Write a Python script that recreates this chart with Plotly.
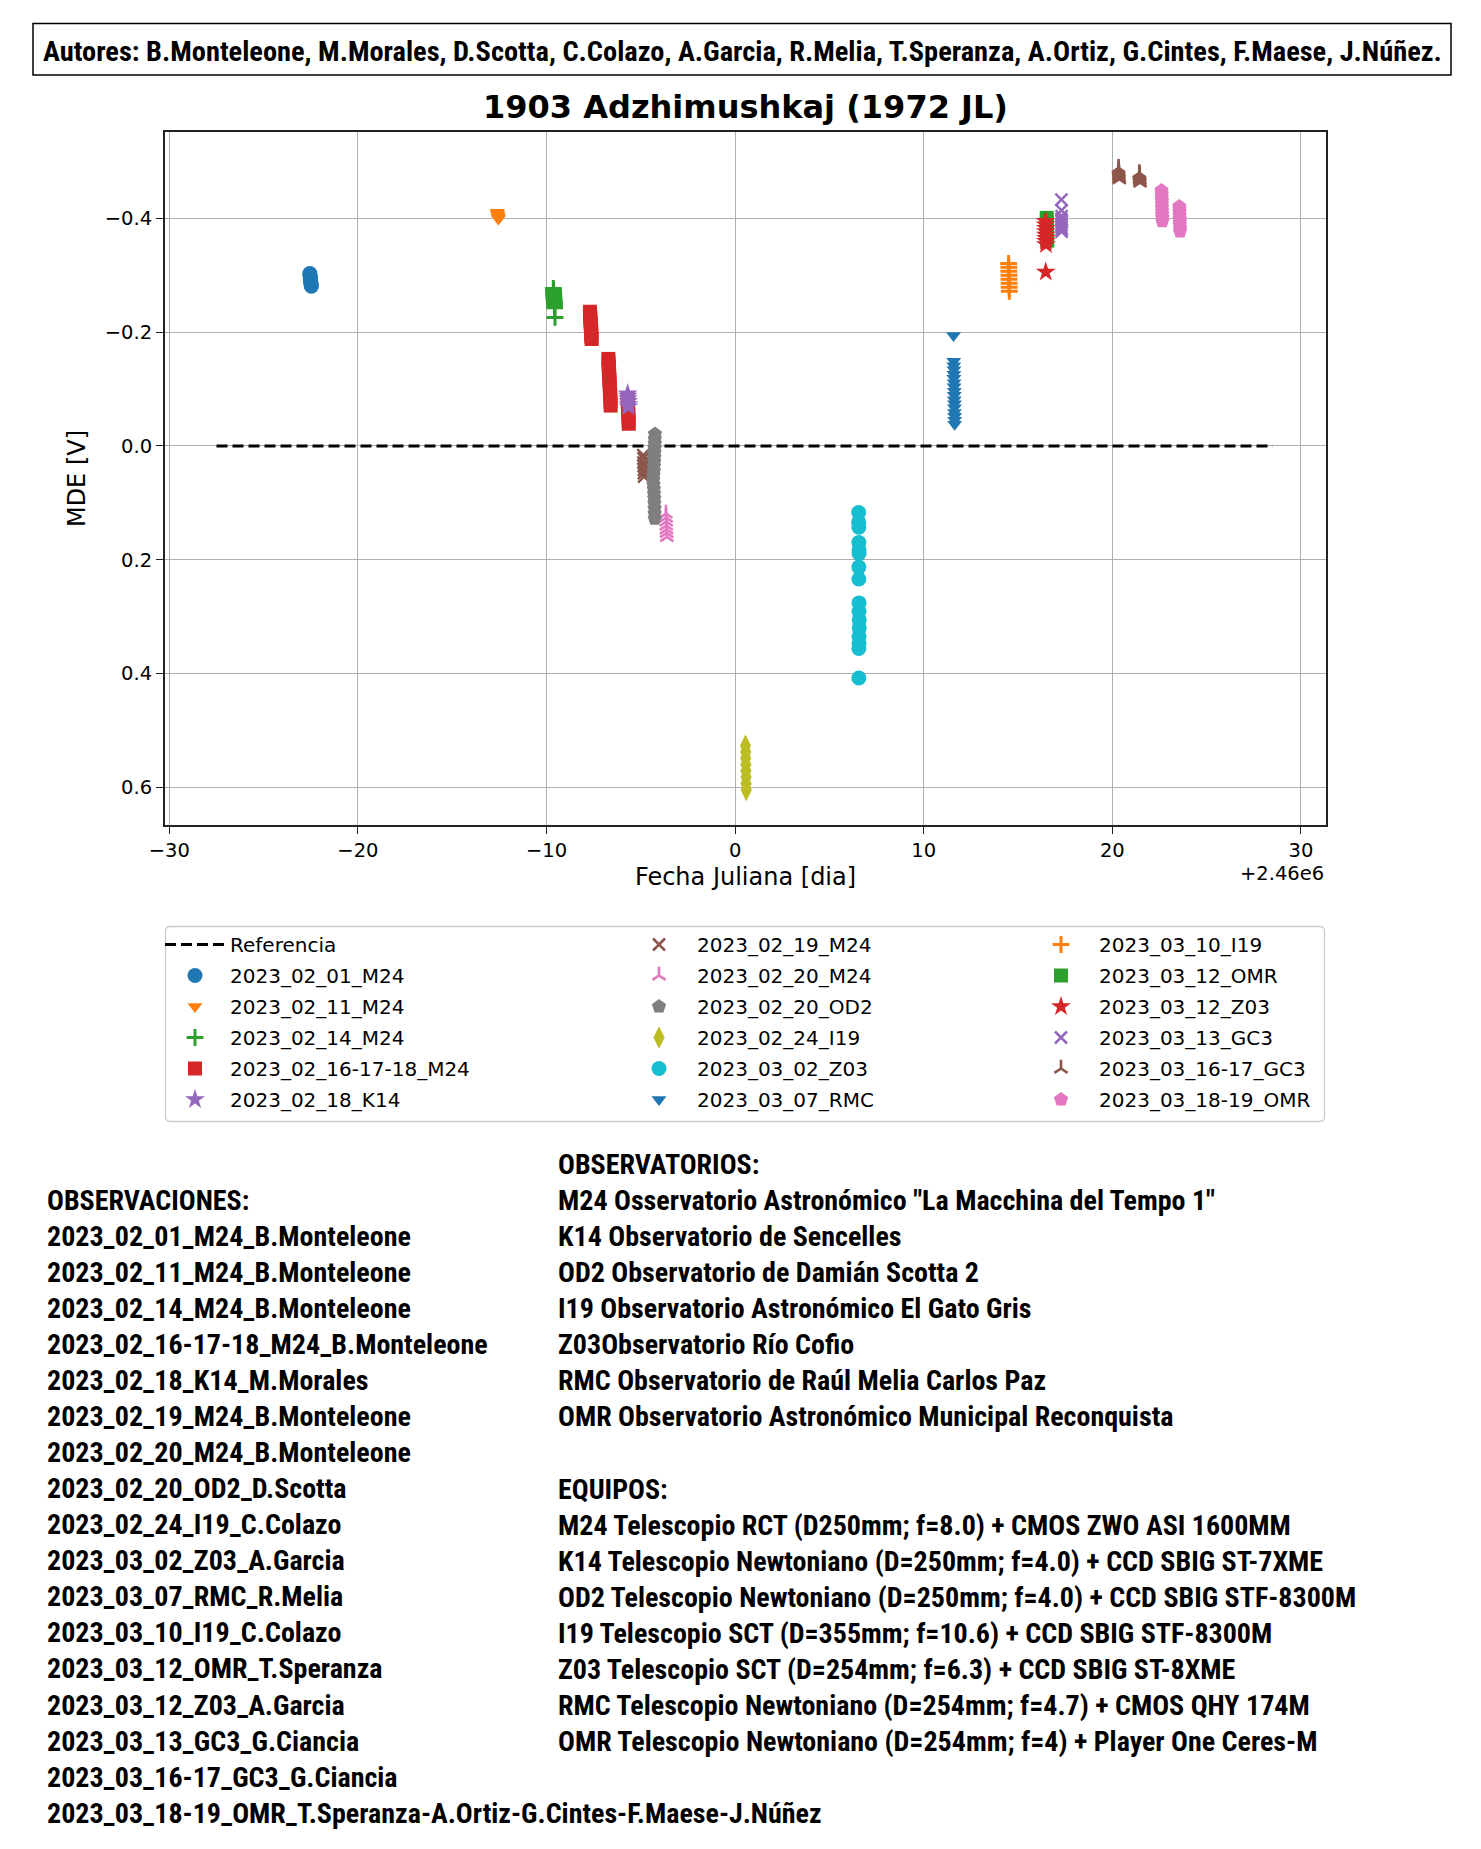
import subprocess
import plotly.graph_objects as go

# ------------------------------------------------------------------ data
ref_x = [-27.5, 28.5]
ref_y = [0.0, 0.0]

x_0201 = [-22.55, -22.54, -22.53, -22.52, -22.52, -22.51, -22.50, -22.49, -22.48, -22.47]
y_0201 = [-0.303, -0.300, -0.297, -0.296, -0.293, -0.291, -0.288, -0.286, -0.283, -0.281]

x_0211 = [-12.62, -12.61, -12.60, -12.59, -12.58, -12.57, -12.56, -12.55]
y_0211 = [-0.411, -0.410, -0.408, -0.407, -0.405, -0.403, -0.401, -0.399]

x_0214 = [-9.64, -9.63, -9.62, -9.62, -9.61, -9.60, -9.59, -9.58, -9.58, -9.57, -9.55]
y_0214 = [-0.277, -0.273, -0.270, -0.266, -0.262, -0.258, -0.255, -0.251, -0.247, -0.243, -0.226]

x_021618 = [-7.70, -7.69, -7.68, -7.67, -7.66, -7.65, -7.64, -7.63, -7.63, -7.62, -7.61,
            -6.72, -6.71, -6.70, -6.69, -6.68, -6.67, -6.66, -6.65, -6.64, -6.63, -6.62, -6.61, -6.60,
            -5.70, -5.69, -5.68, -5.67, -5.66, -5.65, -5.64]
y_021618 = [-0.236, -0.231, -0.226, -0.221, -0.216, -0.211, -0.206, -0.201, -0.196, -0.192, -0.188,
            -0.153, -0.146, -0.140, -0.133, -0.127, -0.120, -0.114, -0.107, -0.100, -0.093, -0.086, -0.078, -0.071,
            -0.083, -0.076, -0.068, -0.061, -0.054, -0.046, -0.039]

x_0218 = [-5.70, -5.69, -5.68, -5.67, -5.66, -5.66]
y_0218 = [-0.092, -0.088, -0.083, -0.078, -0.073, -0.069]

x_0219 = [-4.87, -4.86, -4.86, -4.85, -4.84, -4.84, -4.83]
y_0219 = [0.016, 0.022, 0.029, 0.035, 0.042, 0.048, 0.054]

x_0220m = [-3.67, -3.66, -3.65, -3.65, -3.64, -3.63, -3.62]
y_0220m = [0.119, 0.126, 0.133, 0.140, 0.147, 0.153, 0.160]

x_0220o = [-4.25, -4.26, -4.26, -4.27, -4.28, -4.28, -4.29, -4.30, -4.31, -4.33,
           -4.34, -4.33, -4.31, -4.30, -4.29, -4.28, -4.27, -4.27, -4.26]
y_0220o = [-0.021, -0.012, -0.004, 0.004, 0.012, 0.020, 0.028, 0.036, 0.044, 0.052,
           0.060, 0.068, 0.076, 0.084, 0.092, 0.101, 0.110, 0.119, 0.128]

x_0224 = [0.55, 0.56, 0.56, 0.57, 0.57, 0.58, 0.58, 0.59]
y_0224 = [0.527, 0.538, 0.549, 0.560, 0.571, 0.582, 0.594, 0.605]

x_0302 = [6.55, 6.55, 6.56, 6.56, 6.57, 6.57, 6.56, 6.56, 6.57, 6.57, 6.58, 6.58, 6.57, 6.57, 6.56, 6.56]
y_0302 = [0.117, 0.134, 0.143, 0.170, 0.183, 0.189, 0.213, 0.234, 0.276, 0.291, 0.306, 0.320, 0.335, 0.347, 0.356, 0.408]

x_0307 = [11.58, 11.59, 11.59, 11.60, 11.60, 11.60, 11.61, 11.61, 11.62, 11.62, 11.62, 11.63, 11.63, 11.63, 11.64, 11.64, 11.64]
y_0307 = [-0.194, -0.149, -0.141, -0.134, -0.126, -0.119, -0.111, -0.104, -0.096, -0.089, -0.081, -0.074, -0.067, -0.059, -0.052, -0.045, -0.038]

x_0310 = [14.50, 14.51, 14.51, 14.52, 14.52, 14.53, 14.53, 14.54]
y_0310 = [-0.321, -0.314, -0.307, -0.300, -0.293, -0.286, -0.279, -0.272]

x_0312o = [16.52, 16.53, 16.53, 16.54, 16.54, 16.55]
y_0312o = [-0.401, -0.393, -0.385, -0.377, -0.369, -0.361]

x_0312z = [16.46, 16.46, 16.47, 16.47, 16.47, 16.48, 16.48, 16.48, 16.47]
y_0312z = [-0.395, -0.389, -0.383, -0.377, -0.371, -0.365, -0.360, -0.354, -0.306]

x_0313 = [17.30, 17.31, 17.31, 17.30, 17.32, 17.31, 17.30, 17.32, 17.31]
y_0313 = [-0.433, -0.414, -0.404, -0.399, -0.394, -0.389, -0.385, -0.381, -0.377]

x_031617 = [20.33, 20.34, 20.35, 20.35, 20.36, 20.37, 21.43, 21.44, 21.45, 21.45, 21.46, 21.47]
y_031617 = [-0.489, -0.485, -0.481, -0.477, -0.473, -0.469, -0.480, -0.477, -0.474, -0.470, -0.467, -0.463]

x_031819 = [22.61, 22.62, 22.62, 22.63, 22.63, 22.63, 22.64, 22.64, 22.65, 22.65,
            23.55, 23.56, 23.56, 23.57, 23.57, 23.58, 23.58, 23.59, 23.59]
y_031819 = [-0.449, -0.443, -0.437, -0.431, -0.425, -0.419, -0.413, -0.407, -0.401, -0.395,
            -0.421, -0.416, -0.411, -0.405, -0.399, -0.393, -0.388, -0.382, -0.377]

series_names = ["2023_02_01_M24", "2023_02_11_M24", "2023_02_14_M24", "2023_02_16-17-18_M24",
                "2023_02_18_K14", "2023_02_19_M24", "2023_02_20_M24", "2023_02_20_OD2",
                "2023_02_24_I19", "2023_03_02_Z03", "2023_03_07_RMC", "2023_03_10_I19",
                "2023_03_12_OMR", "2023_03_12_Z03", "2023_03_13_GC3", "2023_03_16-17_GC3",
                "2023_03_18-19_OMR"]
series_x = [x_0201, x_0211, x_0214, x_021618, x_0218, x_0219, x_0220m, x_0220o, x_0224,
            x_0302, x_0307, x_0310, x_0312o, x_0312z, x_0313, x_031617, x_031819]
series_y = [y_0201, y_0211, y_0214, y_021618, y_0218, y_0219, y_0220m, y_0220o, y_0224,
            y_0302, y_0307, y_0310, y_0312o, y_0312z, y_0313, y_031617, y_031819]

x_ticks = [-30, -20, -10, 0, 10, 20, 30]
y_ticks = [-0.4, -0.2, 0.0, 0.2, 0.4, 0.6]

authors = "Autores: B.Monteleone, M.Morales, D.Scotta, C.Colazo, A.Garcia, R.Melia, T.Speranza, A.Ortiz, G.Cintes, F.Maese, J.Núñez."
title_text = "1903 Adzhimushkaj (1972 JL)"

observaciones = ["OBSERVACIONES:",
                 "2023_02_01_M24_B.Monteleone",
                 "2023_02_11_M24_B.Monteleone",
                 "2023_02_14_M24_B.Monteleone",
                 "2023_02_16-17-18_M24_B.Monteleone",
                 "2023_02_18_K14_M.Morales",
                 "2023_02_19_M24_B.Monteleone",
                 "2023_02_20_M24_B.Monteleone",
                 "2023_02_20_OD2_D.Scotta",
                 "2023_02_24_I19_C.Colazo",
                 "2023_03_02_Z03_A.Garcia",
                 "2023_03_07_RMC_R.Melia",
                 "2023_03_10_I19_C.Colazo",
                 "2023_03_12_OMR_T.Speranza",
                 "2023_03_12_Z03_A.Garcia",
                 "2023_03_13_GC3_G.Ciancia",
                 "2023_03_16-17_GC3_G.Ciancia",
                 "2023_03_18-19_OMR_T.Speranza-A.Ortiz-G.Cintes-F.Maese-J.Núñez"]

observatorios = ["OBSERVATORIOS:",
                 "M24 Osservatorio Astronómico \"La Macchina del Tempo 1\"",
                 "K14 Observatorio de Sencelles",
                 "OD2 Observatorio de Damián Scotta 2",
                 "I19 Observatorio Astronómico El Gato Gris",
                 "Z03Observatorio Río Cofio",
                 "RMC Observatorio de Raúl Melia Carlos Paz",
                 "OMR Observatorio Astronómico Municipal Reconquista",
                 "",
                 "EQUIPOS:",
                 "M24 Telescopio RCT (D250mm; f=8.0) + CMOS ZWO ASI 1600MM",
                 "K14 Telescopio Newtoniano (D=250mm; f=4.0) + CCD SBIG ST-7XME",
                 "OD2 Telescopio Newtoniano (D=250mm; f=4.0) + CCD SBIG STF-8300M",
                 "I19 Telescopio SCT (D=355mm; f=10.6) + CCD SBIG STF-8300M",
                 "Z03 Telescopio SCT (D=254mm; f=6.3) + CCD SBIG ST-8XME",
                 "RMC Telescopio Newtoniano (D=254mm; f=4.7) + CMOS QHY 174M",
                 "OMR Telescopio Newtoniano (D=254mm; f=4) + Player One Ceres-M"]

# ------------------------------------------------------------------ fonts for the condensed text


def installed_families():
    try:
        out = subprocess.run(["fc-list", ":", "family"], capture_output=True, text=True, timeout=20).stdout
        return out.lower()
    except Exception:
        return ""


fams = installed_families()
if "liberation sans narrow" in fams:
    COND_FAMILY, BLOCK_SIZE, AUTH_SIZE = "Liberation Sans Narrow", 28, 28.4
elif "roboto condensed" in fams:
    COND_FAMILY, BLOCK_SIZE, AUTH_SIZE = "Roboto Condensed", 28, 28.4
else:
    COND_FAMILY, BLOCK_SIZE, AUTH_SIZE = "DejaVu Sans Condensed", 23, 23.2

# ------------------------------------------------------------------ style
colors = ["#1f77b4", "#ff7f0e", "#2ca02c", "#d62728", "#9467bd", "#8c564b", "#e377c2",
          "#7f7f7f", "#bcbd22", "#17becf", "#1f77b4", "#ff7f0e", "#2ca02c", "#d62728",
          "#9467bd", "#8c564b", "#e377c2"]
sym_cycle = [("circle", 15, 0), ("triangle-down", 13, 0), ("cross-thin", 12, 3),
             ("square", 14, 0), ("star", 15, 0), ("x-thin", 12, 2.5), ("y-up", 11, 2.6),
             ("pentagon", 15, 0), ("diamond-tall", 16, 0)]
legend_of = ["legend"] * 5 + ["legend2"] * 6 + ["legend3"] * 6

FIG_W, FIG_H = 1481, 1849
PL, PR, PT, PB = 165, 1326, 132, 825
PW, PH = PR - PL, PB - PT


def px(X):
    return (X - PL) / PW


def py(Y):
    return (PB - Y) / PH


fig = go.Figure()

fig.add_trace(go.Scatter(x=ref_x, y=ref_y, mode="lines", name="Referencia",
                         line=dict(color="black", width=3, dash="11px,5px"),
                         legend="legend", legendgroup="ref"))

for i, (nm, xs, ys) in enumerate(zip(series_names, series_x, series_y)):
    sym, size, lw = sym_cycle[i % 9]
    col = colors[i]
    marker = dict(symbol=sym, size=size, color=col,
                  line=dict(color=col, width=lw))
    fig.add_trace(go.Scatter(x=xs, y=ys, mode="markers", name=nm, marker=marker,
                             legend=legend_of[i], legendgroup=nm))

leg_font = dict(family="DejaVu Sans", size=20, color="black")
leg_common = dict(bgcolor="rgba(0,0,0,0)", borderwidth=0, font=leg_font,
                  traceorder="grouped", tracegroupgap=2, yanchor="top",
                  xanchor="left", orientation="v")

LEG_TOP = 925
fig.update_layout(
    width=FIG_W, height=FIG_H,
    margin=dict(l=PL, r=FIG_W - PR, t=PT, b=FIG_H - PB, pad=0),
    paper_bgcolor="white", plot_bgcolor="white",
    font=dict(family="DejaVu Sans", color="black"),
    title=dict(text="<b>" + title_text + "</b>", x=0.5, xref="paper",
               y=1 - 107 / FIG_H, yref="container", yanchor="middle", xanchor="center",
               font=dict(family="DejaVu Sans", size=32, color="black")),
    showlegend=True,
    legend=dict(x=px(160), y=py(LEG_TOP), itemwidth=60, **leg_common),
    legend2=dict(x=px(621), y=py(LEG_TOP), itemwidth=66, **leg_common),
    legend3=dict(x=px(1023), y=py(LEG_TOP), itemwidth=66, **leg_common),
)

axis_common = dict(showgrid=True, gridcolor="#b0b0b0", gridwidth=1.2,
                   showline=True, linecolor="#222222", linewidth=2, mirror=True,
                   ticks="outside", ticklen=7, tickwidth=1.3, tickcolor="#222222",
                   tickfont=dict(family="DejaVu Sans", size=19.5, color="black"),
                   zeroline=False)

fig.update_xaxes(range=[-30.23, 31.33], tickvals=x_ticks,
                 title=dict(text="Fecha Juliana [dia]", standoff=7,
                            font=dict(family="DejaVu Sans", size=24, color="black")),
                 **axis_common)
fig.update_yaxes(range=[0.6665, -0.552], tickvals=y_ticks, tickformat=".1f",
                 title=dict(text="MDE [V]", standoff=12,
                            font=dict(family="DejaVu Sans", size=24, color="black")),
                 **axis_common)

shapes = []
# authors box
shapes.append(dict(type="rect", xref="paper", yref="paper",
                   x0=px(33), x1=px(1451), y0=py(75), y1=py(23.5),
                   line=dict(color="black", width=1.5), fillcolor="rgba(0,0,0,0)"))
# legend frame with rounded corners
lx0, lx1, ly0, ly1, r = 165.5, 1324.5, 926.5, 1121.5, 5
rx, ry = r / PW, r / PH
path = (f"M {px(lx0)+rx},{py(ly0)} L {px(lx1)-rx},{py(ly0)} Q {px(lx1)},{py(ly0)} {px(lx1)},{py(ly0)-ry} "
        f"L {px(lx1)},{py(ly1)+ry} Q {px(lx1)},{py(ly1)} {px(lx1)-rx},{py(ly1)} "
        f"L {px(lx0)+rx},{py(ly1)} Q {px(lx0)},{py(ly1)} {px(lx0)},{py(ly1)+ry} "
        f"L {px(lx0)},{py(ly0)-ry} Q {px(lx0)},{py(ly0)} {px(lx0)+rx},{py(ly0)} Z")
shapes.append(dict(type="path", xref="paper", yref="paper", path=path,
                   line=dict(color="#cccccc", width=1.3), fillcolor="rgba(255,255,255,0.8)",
                   layer="below"))
fig.update_layout(shapes=shapes)

annos = []
block_font = dict(family=COND_FAMILY + ", DejaVu Sans Condensed, sans-serif",
                  size=BLOCK_SIZE, color="black", weight="bold")
annos.append(dict(text=authors, xref="paper", yref="paper", x=px(742), y=py(52),
                  xanchor="center", yanchor="middle", showarrow=False,
                  font=dict(family=COND_FAMILY + ", DejaVu Sans Condensed, sans-serif",
                            size=AUTH_SIZE, color="black", weight="bold")))
annos.append(dict(text="+2.46e6", xref="paper", yref="paper", x=px(1326), y=py(873),
                  xanchor="right", yanchor="middle", showarrow=False,
                  font=dict(family="DejaVu Sans", size=19.5, color="black")))
LINE = 36.05
for k, t in enumerate(observaciones):
    annos.append(dict(text=t, xref="paper", yref="paper", x=px(45), y=py(1200.3 + k * LINE),
                      xanchor="left", yanchor="middle", showarrow=False, font=block_font))
for k, t in enumerate(observatorios):
    if not t:
        continue
    annos.append(dict(text=t, xref="paper", yref="paper", x=px(556), y=py(1164.6 + k * LINE),
                      xanchor="left", yanchor="middle", showarrow=False, font=block_font))
fig.update_layout(annotations=annos)

fig.write_html("out.html",
               config={"displayModeBar": False},
               post_script="document.body.style.margin='0';document.body.style.overflow='hidden';")
